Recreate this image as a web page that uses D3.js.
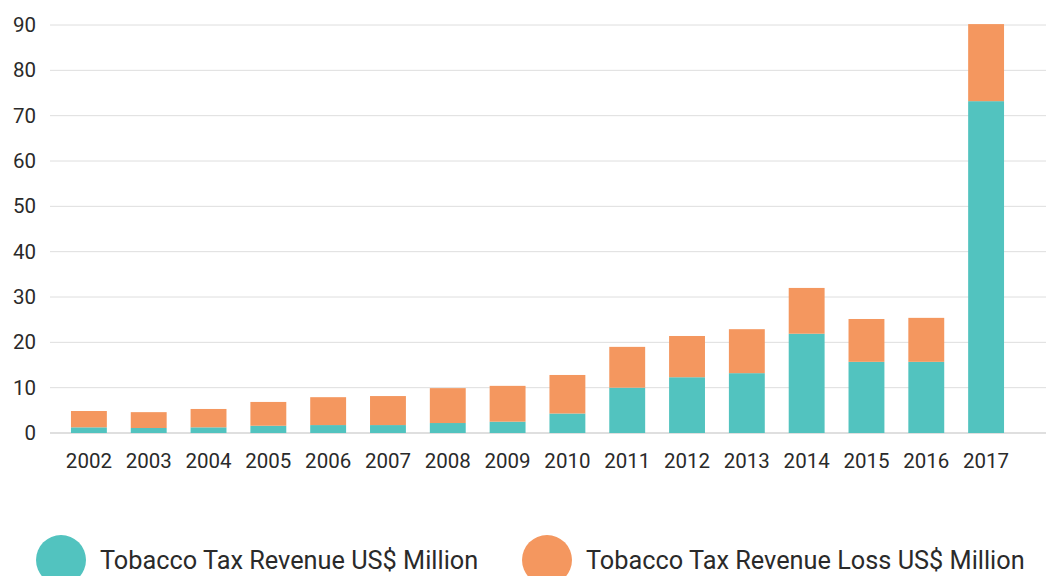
<!DOCTYPE html>
<html><head><meta charset="utf-8">
<script src="https://cdn.jsdelivr.net/npm/d3@7"></script>
<style>body{margin:0;background:#fff}svg{display:block;font-family:Roboto,sans-serif}</style>
</head><body>
<svg id="c" width="1046" height="576"></svg>
<script>
const years = ["2002","2003","2004","2005","2006","2007","2008","2009","2010","2011","2012","2013","2014","2015","2016","2017"];
const revenue = [1.25,1.1,1.25,1.6,1.75,1.75,2.2,2.5,4.3,10.0,12.3,13.2,21.9,15.7,15.7,73.2];
const total = [4.85,4.6,5.3,6.85,7.9,8.15,9.9,10.4,12.8,19.0,21.4,22.9,32.0,25.15,25.4,90.2];
const loss = total.map((t,i)=>+(t-revenue[i]).toFixed(2));
const yTicks = [0,10,20,30,40,50,60,70,80,90];
const seriesNames = ["Tobacco Tax Revenue US$ Million","Tobacco Tax Revenue Loss US$ Million"];
const colors = ["#52c3bf","#f4975f"];

const svg = d3.select("#c");
const x = d3.scaleBand().domain(years).range([59,1016]).paddingInner(0.4).paddingOuter(0.2);
const y = d3.scaleLinear().domain([0,90]).range([433,25]);

const grid = svg.append("g");
grid.selectAll("line").data(yTicks).join("line")
  .attr("x1",50).attr("x2",1046).attr("y1",d=>y(d)).attr("y2",d=>y(d))
  .attr("stroke",d=>d===0?"#d4d4d4":"#dedede").attr("stroke-width",d=>d===0?1.5:1);

const yAxis = svg.append("g").attr("transform","translate(36,0)")
  .call(d3.axisLeft(y).tickValues(yTicks).tickSize(0).tickPadding(0));
yAxis.select(".domain").remove();
yAxis.selectAll("text").attr("font-size",20.5).attr("fill","#2a2a2a").attr("font-family","Roboto,sans-serif");

const data = years.map((yr,i)=>({year:yr, rev:revenue[i], loss:loss[i]}));
const stack = d3.stack().keys(["rev","loss"])(data);
svg.append("g").selectAll("g").data(stack).join("g").attr("fill",(d,i)=>colors[i])
  .selectAll("rect").data(d=>d).join("rect")
  .attr("x",d=>x(d.data.year)).attr("width",x.bandwidth())
  .attr("y",d=>y(d[1])).attr("height",d=>y(d[0])-y(d[1]));

const xAxis = svg.append("g").attr("transform","translate(0,433)")
  .call(d3.axisBottom(x).tickSize(0).tickPadding(0));
xAxis.select(".domain").remove();
xAxis.selectAll("text").attr("font-size",20.5).attr("fill","#2a2a2a").attr("font-family","Roboto,sans-serif").attr("dy","1.7em");

const leg = svg.append("g");
const lx = [61,547];
seriesNames.forEach((n,i)=>{
  leg.append("circle").attr("cx",lx[i]).attr("cy",560).attr("r",25).attr("fill",colors[i]);
  leg.append("text").attr("x",lx[i]+39).attr("y",569).attr("font-size",25.3).attr("fill","#2a2a2a").text(n);
});
</script>
</body></html>
